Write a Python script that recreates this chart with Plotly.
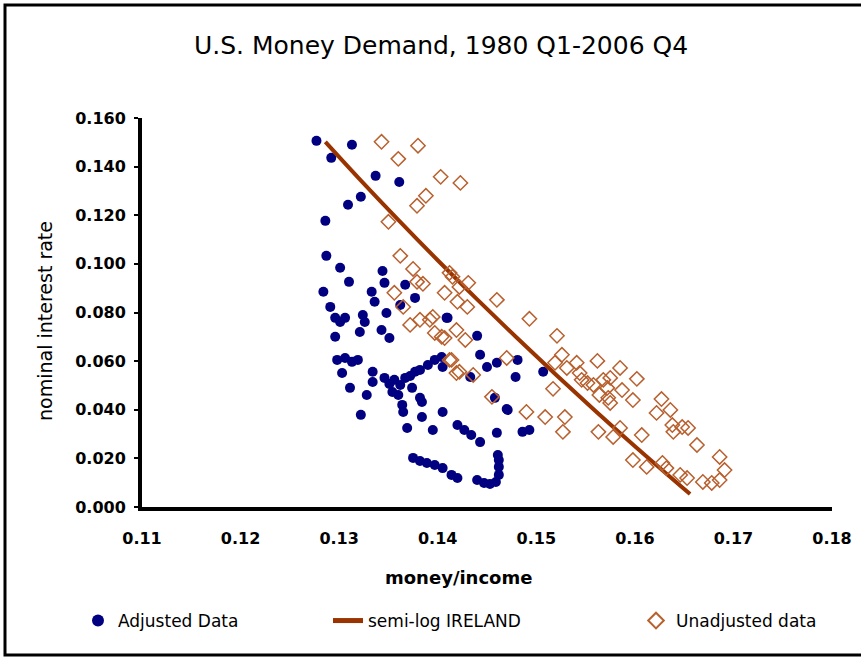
import plotly.graph_objects as go

# ---------------- data ----------------
adj_x = [0.1277, 0.1292, 0.1313, 0.1337, 0.1361, 0.1322, 0.1309, 0.1286, 0.1287, 0.1301,
         0.1344, 0.1310, 0.1284, 0.1346, 0.1333, 0.1336, 0.1367, 0.1377, 0.1291, 0.1296,
         0.1301, 0.1306, 0.1296, 0.1324, 0.1326, 0.1321, 0.1348, 0.1343, 0.1351, 0.1362,
         0.1410,
         0.1298, 0.1306, 0.1313, 0.1319, 0.1303, 0.1311, 0.1322, 0.1334, 0.1334, 0.1328,
         0.1346, 0.1351, 0.1356, 0.1362, 0.1367, 0.1372, 0.1377, 0.1382, 0.1390, 0.1397,
         0.1404, 0.1360, 0.1364, 0.1354, 0.1374,
         0.1382, 0.1384, 0.1369, 0.1395, 0.1405, 0.1384, 0.1365,
         0.1420, 0.1427, 0.1434, 0.1443, 0.1460, 0.1470, 0.1486, 0.1493,
         0.1375, 0.1382, 0.1389, 0.1397, 0.1405, 0.1414, 0.1420,
         0.1440, 0.1447, 0.1453, 0.1459, 0.1462, 0.1462, 0.1462, 0.1461,
         0.1440, 0.1443, 0.1450, 0.1460, 0.1481, 0.1479, 0.1433, 0.1405, 0.1507,
         0.1458, 0.1471, 0.1409]
adj_y = [0.1506, 0.1436, 0.1490, 0.1362, 0.1337, 0.1276, 0.1243, 0.1177, 0.1033, 0.0984,
         0.0971, 0.0926, 0.0885, 0.0922, 0.0885, 0.0844, 0.0914, 0.0860, 0.0823, 0.0778,
         0.0761, 0.0778, 0.0700, 0.0790, 0.0761, 0.0720, 0.0798, 0.0728, 0.0695, 0.0831,
         0.0778,
         0.0605, 0.0613, 0.0597, 0.0605, 0.0551, 0.0490, 0.0379, 0.0556, 0.0514, 0.0461,
         0.0531, 0.0506, 0.0523, 0.0502, 0.0531, 0.0539, 0.0556, 0.0564, 0.0584, 0.0605,
         0.0617, 0.0461, 0.0420, 0.0473, 0.0490,
         0.0449, 0.0370, 0.0325, 0.0317, 0.0391, 0.0432, 0.0391,
         0.0337, 0.0317, 0.0296, 0.0267, 0.0305, 0.0403, 0.0309, 0.0317,
         0.0202, 0.0189, 0.0181, 0.0173, 0.0160, 0.0132, 0.0119,
         0.0111, 0.0099, 0.0095, 0.0103, 0.0132, 0.0165, 0.0193, 0.0214,
         0.0704, 0.0626, 0.0576, 0.0593, 0.0605, 0.0535, 0.0535, 0.0576, 0.0556,
         0.0449, 0.0399, 0.0778]

line_x = [0.1286, 0.1320, 0.1360, 0.1400, 0.1440, 0.1480, 0.1520, 0.1560, 0.1600, 0.1656]
line_y = [0.1502, 0.1352, 0.1181, 0.1015, 0.0854, 0.0697, 0.0544, 0.0395, 0.0250, 0.0053]

unadj_x = [0.1343, 0.1380, 0.1360, 0.1403, 0.1423, 0.1388, 0.1379, 0.1350,
           0.1362, 0.1375, 0.1379, 0.1385, 0.1356, 0.1365, 0.1407, 0.1412, 0.1415, 0.1431,
           0.1422, 0.1420, 0.1430, 0.1460,
           0.1395, 0.1372, 0.1382, 0.1392, 0.1397, 0.1407, 0.1419, 0.1428, 0.1404,
           0.1414, 0.1419, 0.1412, 0.1422, 0.1436, 0.1455, 0.1470,
           0.1493, 0.1521, 0.1526, 0.1519, 0.1541, 0.1531, 0.1544, 0.1562, 0.1585,
           0.1546, 0.1552, 0.1558, 0.1568, 0.1575, 0.1572, 0.1564, 0.1573, 0.1575, 0.1587,
           0.1598, 0.1602,
           0.1517, 0.1490, 0.1509, 0.1529, 0.1527, 0.1563, 0.1578, 0.1585, 0.1607,
           0.1627, 0.1622, 0.1636, 0.1638, 0.1648, 0.1654, 0.1639, 0.1663,
           0.1598, 0.1612, 0.1628, 0.1632, 0.1646, 0.1653, 0.1669, 0.1678, 0.1686,
           0.1691, 0.1686]
unadj_y = [0.1502, 0.1486, 0.1432, 0.1358, 0.1333, 0.1280, 0.1239, 0.1173,
           0.1033, 0.0979, 0.0926, 0.0918, 0.0881, 0.0823, 0.0881, 0.0963, 0.0947, 0.0922,
           0.0905, 0.0844, 0.0823, 0.0852,
           0.0782, 0.0749, 0.0770, 0.0770, 0.0716, 0.0695, 0.0728, 0.0687, 0.0700,
           0.0605, 0.0551, 0.0605, 0.0556, 0.0543, 0.0453, 0.0613,
           0.0774, 0.0704, 0.0626, 0.0593, 0.0593, 0.0572, 0.0551, 0.0601, 0.0572,
           0.0523, 0.0510, 0.0502, 0.0523, 0.0531, 0.0490, 0.0461, 0.0449, 0.0428, 0.0481,
           0.0440, 0.0527,
           0.0486, 0.0391, 0.0370, 0.0370, 0.0309, 0.0309, 0.0288, 0.0325, 0.0296,
           0.0444, 0.0387, 0.0399, 0.0337, 0.0329, 0.0325, 0.0309, 0.0255,
           0.0193, 0.0165, 0.0181, 0.0160, 0.0132, 0.0119, 0.0103, 0.0099, 0.0206,
           0.0152, 0.0111]

x_ticks = [0.11, 0.12, 0.13, 0.14, 0.15, 0.16, 0.17, 0.18]
y_ticks = [0.000, 0.020, 0.040, 0.060, 0.080, 0.100, 0.120, 0.140, 0.160]

NAVY = "#000080"
BROWN_LINE = "#993300"
BROWN_MARK = "#B8602E"
DJ = "DejaVu Sans, Verdana, sans-serif"

fig = go.Figure()
fig.add_trace(go.Scatter(
    x=adj_x, y=adj_y, mode="markers", name="Adjusted Data",
    marker=dict(symbol="circle", size=10, color=NAVY, line=dict(width=0)),
    legend="legend"))
fig.add_trace(go.Scatter(
    x=line_x, y=line_y, mode="lines", name="semi-log IRELAND",
    line=dict(color=BROWN_LINE, width=4, shape="spline"),
    legend="legend2"))
fig.add_trace(go.Scatter(
    x=unadj_x, y=unadj_y, mode="markers", name="Unadjusted data",
    marker=dict(symbol="diamond-open", size=11, color=BROWN_MARK,
                line=dict(width=1.5, color=BROWN_MARK)),
    legend="legend3"))

W, H = 861, 659
L, R, T, B = 142, 29, 118, 152
pw, ph = W - L - R, H - T - B

def px_x(p):
    return (p - L) / pw

def px_y(p):
    return (H - B - p) / ph

legend_common = dict(orientation="h", yanchor="middle", xanchor="left",
                     font=dict(family=DJ, size=17, color="black"),
                     bgcolor="rgba(0,0,0,0)", borderwidth=0, itemsizing="constant")

fig.update_layout(
    width=W, height=H,
    margin=dict(l=L, r=R, t=T, b=B, autoexpand=False),
    paper_bgcolor="white", plot_bgcolor="white",
    showlegend=True,
    legend=dict(x=px_x(78), y=px_y(621), **legend_common),
    legend2=dict(x=px_x(328), y=px_y(621), **legend_common),
    legend3=dict(x=px_x(636), y=px_y(621), **legend_common),
    xaxis=dict(range=[0.11, 0.18], tickvals=x_ticks, tickformat=".2f",
               showline=True, linewidth=4, linecolor="black", mirror=False,
               ticks="", showgrid=False, zeroline=False,
               tickfont=dict(family=DJ, size=16, color="black", weight="bold"),
               ticklabelstandoff=14),
    yaxis=dict(range=[0, 0.16], tickvals=y_ticks, tickformat=".3f",
               showline=True, linewidth=4, linecolor="black",
               ticks="outside", ticklen=4, tickwidth=2, tickcolor="black",
               showgrid=False, zeroline=False,
               tickfont=dict(family=DJ, size=16, color="black", weight="bold"),
               ticklabelstandoff=5),
    annotations=[
        dict(text="U.S. Money Demand, 1980 Q1-2006 Q4", xref="paper", yref="paper",
             x=px_x(441), y=px_y(45), showarrow=False, xanchor="center", yanchor="middle",
             font=dict(family=DJ, size=25, color="black")),
        dict(text="money/income", xref="paper", yref="paper",
             x=px_x(458), y=px_y(577), showarrow=False, xanchor="center", yanchor="middle",
             font=dict(family=DJ, size=18, color="black", weight="bold")),
        dict(text="nominal interest rate", xref="paper", yref="paper",
             x=px_x(45), y=px_y(321), showarrow=False, xanchor="center", yanchor="middle",
             textangle=-90, font=dict(family=DJ, size=19, color="black")),
    ],
    shapes=[
        dict(type="rect", xref="paper", yref="paper",
             x0=px_x(5), x1=px_x(864), y0=px_y(655), y1=px_y(5),
             line=dict(color="black", width=3), fillcolor="rgba(0,0,0,0)", layer="below"),
    ],
)

fig.write_html("out.html", config={"displayModeBar": False},
               post_script="document.body.style.margin='0';")
